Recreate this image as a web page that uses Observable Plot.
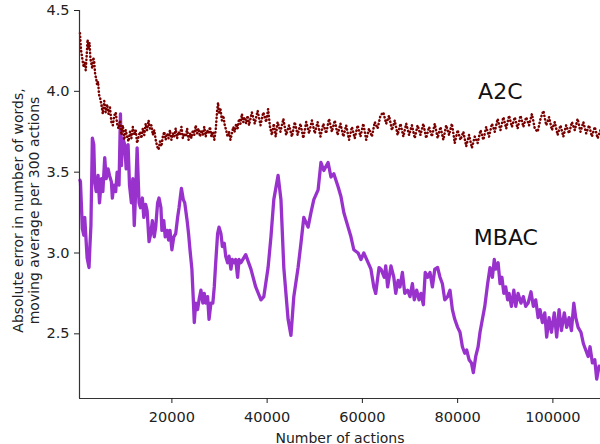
<!DOCTYPE html>
<html><head><meta charset="utf-8">
<script src="https://cdn.jsdelivr.net/npm/d3@7"></script>
<script src="https://cdn.jsdelivr.net/npm/@observablehq/plot@0.6"></script>
<style>body{margin:0;background:#fff} #chart svg{display:block}</style>
</head><body><div id="chart"></div>
<script>
const a2cX = [700,900,1100,1300,1500,1700,1900,2100,2300,2500,2700,2900,3100,3300,3500,3700,3900,4100,4300,4500,4700,5000,5300,5500,5800,6100,6400,6700,7000,7300,7600,7900,8200,8500,8800,9100,9400,9700,10000,10300,10600,10900,11200,11500,11800,12100,12400,12700,13000,13300,13600,13900,14200,14500,14800,15100,15400,15700,16000,16300,16600,16900,17200,17500,17800,18100,18400,18700,19000,19300,19600,19900,20200,20500,20800,21100,21400,21700,22000,22300,22600,22900,23200,23500,23800,24100,24400,24700,25000,25300,25600,25900,26200,26500,26800,27100,27400,27700,28000,28300,28600,28900,29200,29500,29700,29900,30200,30500,30800,31100,31400,31700,32000,32300,32600,32900,33200,33500,33800,34100,34400,34700,35000,35300,35600,35900,
36200,36800,37400,38000,38600,39200,39800,40200,40600,41000,41400,41800,42200,42800,43400,44000,44600,45200,45800,46400,47000,47600,48200,48800,49400,50000,50600,51200,51800,52400,53000,53600,54200,54800,55400,56000,56600,57200,57800,58400,59000,59600,60200,60800,61400,62000,62600,63200,63800,64400,65000,65600,66200,66800,67400,68000,68600,69200,69800,70400,71000,71600,72200,72800,73400,74000,74600,75200,75800,76400,77000,77600,78200,78800,79400,80000,80600,81200,81800,82400,83000,83600,84200,84800,85400,86000,86600,87200,87800,88400,89000,89600,90200,90800,91400,92000,92600,93200,93800,94400,95000,95600,96200,96800,97400,98000,98600,99200,99800,100400,101000,101600,102200,102800,103400,104000,104600,105200,105800,106400,107000,107600,108200,108800,109400,110000];
const a2cY = [4.36,4.26,4.22,4.18,4.15,4.18,4.13,4.22,4.32,4.26,4.30,4.20,4.17,4.14,4.21,4.18,4.10,4.08,4.04,4.06,3.98,3.95,3.90,3.86,3.94,3.87,3.92,3.86,3.90,3.81,3.79,3.85,3.87,3.80,3.77,3.82,3.73,3.79,3.70,3.76,3.72,3.69,3.75,3.71,3.78,3.73,3.76,3.68,3.72,3.75,3.71,3.77,3.73,3.80,3.76,3.82,3.77,3.79,3.73,3.76,3.70,3.66,3.64,3.69,3.66,3.72,3.75,3.70,3.74,3.71,3.76,3.70,3.74,3.72,3.77,3.71,3.75,3.73,3.78,3.71,3.74,3.72,3.77,3.70,3.74,3.71,3.76,3.73,3.79,3.74,3.77,3.72,3.76,3.73,3.78,3.72,3.76,3.74,3.78,3.72,3.75,3.70,3.76,3.88,3.93,3.86,3.89,3.82,3.85,3.79,3.76,3.72,3.75,3.70,3.74,3.78,3.75,3.80,3.77,3.83,3.80,3.86,3.81,3.84,3.80,3.85,
3.79,3.87,3.80,3.88,3.79,3.87,3.81,3.89,3.78,3.73,3.80,3.72,3.81,3.75,3.83,3.73,3.79,3.72,3.81,3.73,3.80,3.71,3.81,3.74,3.82,3.74,3.81,3.72,3.80,3.74,3.83,3.75,3.82,3.73,3.80,3.72,3.79,3.70,3.78,3.71,3.79,3.72,3.80,3.70,3.77,3.72,3.81,3.77,3.85,3.87,3.80,3.85,3.76,3.82,3.73,3.80,3.72,3.80,3.73,3.79,3.71,3.79,3.73,3.80,3.71,3.78,3.72,3.80,3.71,3.78,3.70,3.79,3.73,3.80,3.68,3.76,3.70,3.75,3.66,3.73,3.65,3.72,3.68,3.76,3.70,3.78,3.72,3.80,3.75,3.83,3.76,3.84,3.77,3.85,3.78,3.84,3.77,3.85,3.78,3.84,3.79,3.86,3.77,3.75,3.83,3.88,3.79,3.84,3.76,3.81,3.73,3.79,3.72,3.79,3.74,3.81,3.76,3.83,3.75,3.81,3.74,3.79,3.72,3.78,3.71,3.76];

const mbacX = [700,800,1200,1500,1700,2000,2200,2600,2800,3000,3300,3600,3800,4100,4500,4800,5200,5500,5900,6200,6600,6900,7300,7500,7800,8200,8500,8900,9200,9400,9700,10100,10400,10800,11100,11500,11800,12100,12400,12700,13100,13400,13800,14100,14500,14800,15200,15500,
15900,16300,16600,17000,17300,17700,17900,18300,18600,19000,19300,19600,20000,20400,20800,21200,21500,22000,22400,22700,23200,23500,23800,24200,24500,24700,25000,25400,25700,26100,26500,26800,27100,27500,27800,28200,28600,28900,29200,29600,29900,30300,30600,31000,31300,31700,32000,32400,32700,33100,33400,33800,34100,
34500,35500,36600,37600,38700,39300,40200,40800,41400,42300,42900,43500,44400,45000,45600,46500,47100,47700,48600,49200,49800,50700,51300,51900,52800,53400,54000,54900,55500,56100,57000,57600,58200,59100,59700,60300,61200,61800,62400,62800,63500,
63900,64600,64900,65300,66000,66600,67000,67500,67900,68400,68900,69500,70000,70500,70900,71400,71900,72300,72800,73200,73700,74200,74700,75200,75800,76300,76800,77300,77900,78400,78900,79400,80000,80500,81000,81500,81900,82400,82900,83300,83800,84300,84700,85200,85700,86300,86800,
87300,87700,88000,88500,88900,89300,89700,90100,90500,90800,91300,91800,92200,92700,93300,93800,94300,94800,95400,95900,96400,96900,97300,97800,98300,98700,99200,99700,100300,100800,101300,101800,102400,102900,103400,103900,104400,104800,105300,105900,106400,106900,107400,107800,108300,108800,109200,109700];
const mbacY = [3.45,3.44,3.15,3.11,3.22,3.07,2.97,2.91,3.05,3.17,3.71,3.67,3.44,3.38,3.48,3.31,3.46,3.38,3.59,3.46,3.52,3.48,3.44,3.34,3.42,3.38,3.50,3.42,3.86,3.54,3.71,3.67,3.52,3.67,3.42,3.31,3.46,3.17,3.38,3.65,3.31,3.28,3.34,3.22,3.30,3.26,3.07,3.11,
3.20,3.10,3.16,3.31,3.34,3.28,3.14,3.20,3.10,3.14,3.08,3.14,3.02,3.10,3.12,3.22,3.28,3.40,3.33,3.31,3.20,3.12,3.02,2.90,2.71,2.57,2.69,2.65,2.71,2.77,2.69,2.75,2.69,2.73,2.59,2.69,2.69,2.79,2.94,3.12,3.16,3.12,3.04,3.06,2.98,2.94,2.98,2.90,2.96,2.94,2.96,2.85,2.96,
2.94,2.99,2.90,2.79,2.71,2.73,2.91,3.10,3.33,3.48,3.33,2.91,2.59,2.49,2.73,2.91,3.06,3.22,3.16,3.25,3.33,3.39,3.56,3.51,3.56,3.47,3.49,3.41,3.35,3.25,3.16,3.10,3.02,3.00,2.96,3.00,2.94,2.90,2.79,2.75,2.91,
2.90,2.85,2.92,2.79,2.92,2.85,2.75,2.83,2.79,2.88,2.75,2.77,2.73,2.81,2.71,2.77,2.71,2.75,2.68,2.88,2.85,2.88,2.79,2.90,2.91,2.85,2.81,2.71,2.73,2.77,2.65,2.59,2.54,2.51,2.42,2.38,2.40,2.34,2.32,2.26,2.36,2.42,2.51,2.59,2.67,2.81,2.91,
2.85,2.96,2.90,2.94,2.81,2.85,2.75,2.79,2.71,2.75,2.67,2.77,2.67,2.75,2.69,2.73,2.67,2.69,2.76,2.67,2.71,2.60,2.65,2.57,2.63,2.48,2.60,2.51,2.63,2.48,2.65,2.52,2.63,2.54,2.60,2.52,2.69,2.60,2.54,2.51,2.44,2.40,2.36,2.42,2.32,2.34,2.22,2.30];

const xTicks = [20000, 40000, 60000, 80000, 100000];
const yTicks = [2.5, 3.0, 3.5, 4.0, 4.5];
const seriesNames = ["A2C", "MBAC"];
const nameX = [84300, 83400];
const nameY = [3.95, 3.05];
const xLabel = "Number of actions";
const yLabel = "Absolute error in number of words,\nmoving average per 300 actions";

const chart = Plot.plot({
  width: 600, height: 444,
  marginLeft: 79, marginRight: 0, marginTop: 10, marginBottom: 46,
  style: {fontFamily: "DejaVu Sans", fontSize: "14px", color: "#222", background: "#fff"},
  x: {domain: [600, 110000]},
  y: {domain: [2.1, 4.5]},
  marks: [
    Plot.line(mbacY, {x: mbacX, y: mbacY, stroke: "#9932cc", strokeWidth: 3.3, strokeLinejoin: "round"}),
    Plot.line(a2cY, {x: a2cX, y: a2cY, stroke: "#7a0000", strokeWidth: 2.5, strokeLinecap: "round", strokeDasharray: "0.4,3.2"}),
    Plot.ruleX([600], {stroke: "#333", strokeWidth: 1.2}),
    Plot.ruleY([2.1], {stroke: "#333", strokeWidth: 1.2}),
    Plot.axisX(xTicks, {tickSize: 5, tickPadding: 8, tickFormat: d => String(d), label: null, fontSize: 14.5}),
    Plot.axisY(yTicks, {tickSize: 5, tickPadding: 5, tickFormat: d => d.toFixed(1), label: null, fontSize: 14.5}),
    Plot.text([xLabel], {frameAnchor: "bottom", dy: 44, lineAnchor: "bottom", fontSize: 14, fill: "#222"}),
    Plot.text([yLabel], {frameAnchor: "left", textAnchor: "middle", lineAnchor: "middle", rotate: -90, dx: -54, dy: 6, fontSize: 14, lineHeight: 1.15, fill: "#222"}),
    Plot.text(seriesNames, {x: nameX, y: nameY, text: d => d, textAnchor: "start", lineAnchor: "bottom", fontSize: 22, fill: "#111"})
  ]
});
document.getElementById("chart").appendChild(chart);
</script>
</body></html>
